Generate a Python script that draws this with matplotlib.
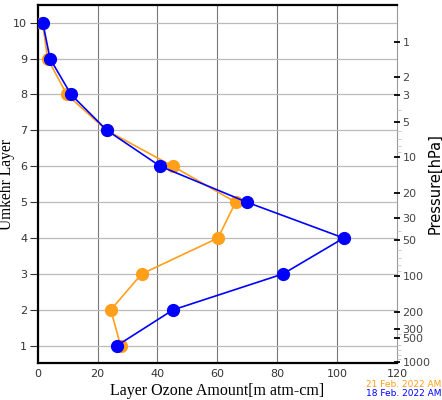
import numpy as np
import matplotlib
matplotlib.use("Agg")
import matplotlib.pyplot as plt

layers = [1, 2, 3, 4, 5, 6, 7, 8, 9, 10]
ozone_18feb = [26.4, 45.2, 81.9, 102.2, 69.8, 40.9, 23.1, 11.1, 4.1, 1.7]
ozone_21feb = [27.7, 24.4, 34.7, 60.2, 66.1, 45.1, 23.0, 9.7, 3.3, 1.6]
label_18 = "18 Feb. 2022 AM"
label_21 = "21 Feb. 2022 AM"

# pressure tick labels and where they sit on the Umkehr-layer scale
pressure_ticks = [1, 2, 3, 5, 10, 20, 30, 50, 100, 200, 300, 500, 1000]
pressure_pos = [9.46, 8.48, 7.97, 7.23, 6.25, 5.26, 4.55, 3.94, 2.94, 1.94, 1.47, 1.21, 0.54]
pressure_minor = [4, 6, 7, 8, 9, 40, 60, 70, 80, 90, 400, 600, 700, 800, 900]

ORANGE = "#ff9f1a"
BLUE = "#0000ff"

fig = plt.figure(figsize=(4.42, 4.0), dpi=100)
ax = fig.add_axes([0.0853, 0.0925, 0.813, 0.895])

ax.plot(ozone_21feb, layers, color=ORANGE, lw=1.2, marker="o", ms=8.5,
        mec=ORANGE, mfc=ORANGE, zorder=3)
ax.plot(ozone_18feb, layers, color=BLUE, lw=1.2, marker="o", ms=8.5,
        mec=BLUE, mfc=BLUE, zorder=4)

ax.set_xlim(0, 120)
ax.set_ylim(0.52, 10.49)
ax.set_xticks(range(0, 121, 20))
ax.set_yticks(layers)
for x in range(20, 101, 20):
    ax.axvline(x, color="#777777", lw=0.8, zorder=1)
for y in layers:
    ax.axhline(y, color="#bbbbbb", lw=0.9, zorder=1)

ax.tick_params(axis="both", labelsize=8, labelcolor="#333333", color="#333333")
ax.tick_params(axis="y", direction="out", length=6, width=0.8, pad=1.5)
ax.tick_params(axis="x", direction="in", length=0, pad=4)

for s in ["left", "bottom", "top"]:
    ax.spines[s].set_linewidth(1.6)
    ax.spines[s].set_color("black")
ax.spines["right"].set_color("#999999")
ax.spines["right"].set_linewidth(0.8)

ax.set_xlabel("Layer Ozone Amount[m atm-cm]", family="Liberation Serif",
              fontsize=11.5)
ax.set_ylabel("Umkehr Layer", family="Liberation Serif", fontsize=11.2)
ax.yaxis.set_label_coords(-0.062, 0.5)
ax.xaxis.set_label_coords(0.5, -0.057)

ax2 = ax.twinx()
ax2.set_ylim(ax.get_ylim())
ax2.set_yticks(pressure_pos)
ax2.set_yticklabels([str(p) for p in pressure_ticks])
lp = np.log(pressure_ticks)
order = np.argsort(lp)
minor_pos = np.interp(np.log(pressure_minor), lp[order], np.array(pressure_pos)[order])
ax2.set_yticks(minor_pos, minor=True)
ax2.tick_params(axis="y", which="major", labelsize=8, labelcolor="#444444",
                length=4, width=1.3, color="black", direction="inout", pad=2)
ax2.tick_params(axis="y", which="minor", length=3, width=0.7, color="#cccccc",
                direction="out")
for s in ax2.spines.values():
    s.set_visible(False)
ax2.set_ylabel("Pressure[hPa]", fontsize=10.5)
ax2.yaxis.set_label_coords(1.084, 0.5)

fig.text(0.998, 0.038, label_21, color=ORANGE, fontsize=6.5, ha="right", va="center")
fig.text(0.998, 0.016, label_18, color=BLUE, fontsize=6.5, ha="right", va="center")

fig.savefig("out.png", dpi=100)
